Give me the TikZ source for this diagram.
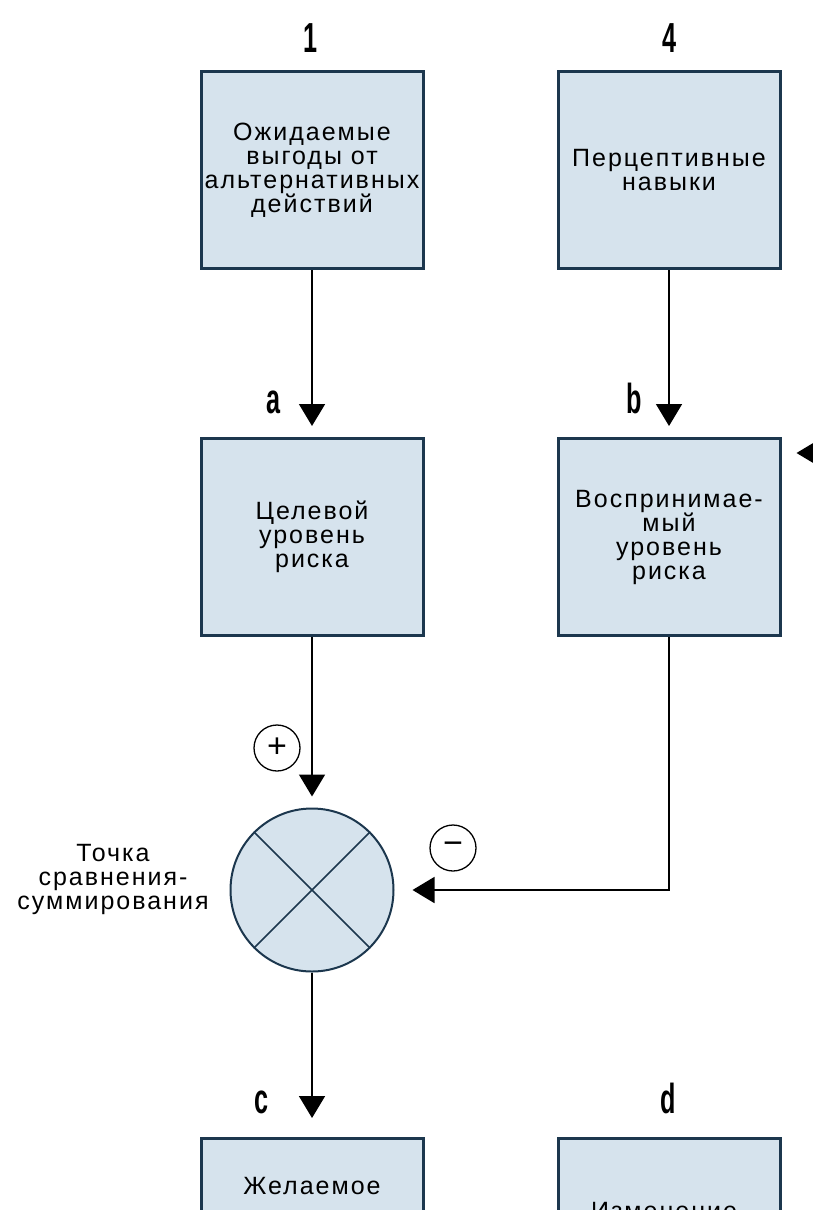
\documentclass[tikz,border=0pt]{standalone}
\usepackage{fontspec}
\usepackage{graphicx}
\setmainfont{Liberation Sans}
\newfontfamily\boxfont{Liberation Sans}[LetterSpace=8]
\usetikzlibrary{arrows.meta,positioning,calc}
\definecolor{boxfill}{RGB}{214,227,237}
\definecolor{boxline}{RGB}{28,55,78}
\newcommand{\nar}[1]{\scalebox{0.6}[1]{#1}}
\begin{document}
\begin{tikzpicture}[x=1pt,y=-1pt,>={Triangle[length=22pt,width=26pt]},
 blk/.style={draw=boxline,line width=3pt,fill=boxfill,minimum width=222pt,minimum height=197pt,inner sep=0pt,align=center,font=\boxfont\fontsize{25}{24}\selectfont},
 txt/.style={align=center,inner sep=0pt,font=\boxfont\fontsize{25}{24}\selectfont},
 lbl/.style={inner sep=0pt,anchor=base,font=\fontsize{42}{42}\selectfont\bfseries},
 sgn/.style={draw,circle,line width=1.3pt,minimum size=46pt,inner sep=0pt,font=\fontsize{34}{34}\selectfont},
 sum/.style={draw=boxline,circle,line width=2pt,fill=boxfill,minimum size=163pt,inner sep=0pt},
 ln/.style={line width=1.6pt}]
\fill[white] (0,0) rectangle (813,1210);
\useasboundingbox (0,0) rectangle (813,1210);
\clip (0,0) rectangle (813,1210);
% top row
\node[lbl] (l1) at (311,52) {\nar{1}};
\node[lbl] (l4) at (669,52) {\nar{4}};
\node[blk] (b1) at (312,170) {Ожидаемые\\выгоды от\\альтернативных\\действий};
\node[blk] (b4) at (669,170) {Перцептивные\\навыки};
% middle row
\node[lbl] (la) at (274,413) {\nar{a}};
\node[lbl] (lb) at (634,413) {\nar{b}};
\node[blk] (ba) at (312,537) {Целевой\\уровень\\риска};
\node[blk] (bb) at (669,537) {Восприни\-мае-\\мый\\уровень\\риска};
\coordinate (fb) at (860,453);
% comparison point
\node[sgn] (plus) at (277,748) {+};
\node[sgn] (minus) at (453,848) {−};
\node[sum] (s) at (312,890) {};
\draw[ln,boxline] (s.north west) -- (s.south east);
\draw[ln,boxline] (s.north east) -- (s.south west);
\node[txt] (sl) at (113,879) {Точка\\сравнения-\\суммирования};
% bottom row
\node[lbl] (lc) at (262,1113) {\nar{c}};
\node[lbl] (ld) at (668,1113) {\nar{d}};
\node[blk,anchor=north] (bc) at (312,1137) {};
\node[blk,anchor=north] (bd) at (669,1137) {};
\node[txt,anchor=north] (tc) at (312,1177) {Желаемое};
\node[txt,anchor=north] (td) at (664,1202) {Изменение};
% connectors
\draw[ln,->,shorten >=11pt] (b1) -- (ba);
\draw[ln,->,shorten >=11pt] (b4) -- (bb);
\draw[ln,->,shorten >=15pt] (fb) -- (bb.east |- fb);
\draw[ln,->,shorten >=11pt] (ba) -- (s);
\draw[ln,->,shorten >=18pt] (bb) |- (s);
\draw[ln,->,shorten >=19pt] (s) -- (bc);
\end{tikzpicture}
\end{document}
